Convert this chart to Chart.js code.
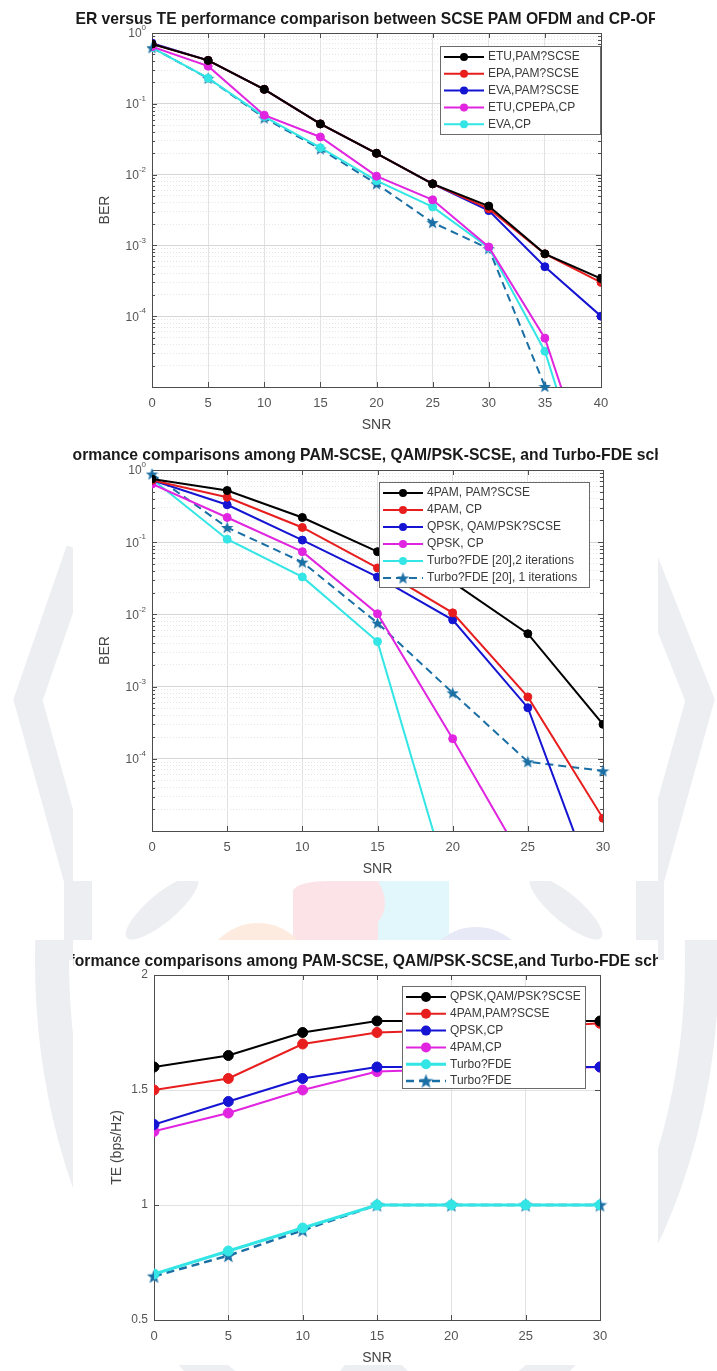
<!DOCTYPE html>
<html>
<head>
<meta charset="utf-8">
<script src="https://cdn.jsdelivr.net/npm/chart.js@4.4.0/dist/chart.umd.min.js"></script>
<style>
html, body { margin: 0; padding: 0; background: #fff; }
#page { position: relative; width: 717px; height: 1371px; overflow: hidden; }
#bg { position: absolute; left: 0; top: 0; }
.panel { position: absolute; background: #fff; }
.chart { position: absolute; left: 0; }
</style>
</head>
<body>
<div id="page">
  <canvas id="bg" width="717" height="1371"></canvas>
  <div class="panel" style="left:0;top:0;width:717px;height:440px"></div>
  <div class="panel" style="left:73px;top:440px;width:585px;height:441px"></div>
  <div class="panel" style="left:73px;top:940px;width:585px;height:425px"></div>
  <canvas id="c1" class="chart" width="717" height="440" style="top:0"></canvas>
  <canvas id="c2" class="chart" width="717" height="441" style="top:440px"></canvas>
  <canvas id="c3" class="chart" width="717" height="431" style="top:940px"></canvas>
</div>
<script>
// ---- data: chart 1 (BER, channels) ----
const snrA = [0, 5, 10, 15, 20, 25, 30, 35, 40];
const berEtuPam   = [0.70, 0.41, 0.16, 0.052, 0.020, 0.0074, 0.0036, 0.00076, 0.00034];
const berEpaPam   = [0.70, 0.41, 0.16, 0.052, 0.020, 0.0074, 0.0033, 0.00076, 0.00030];
const berEvaPam   = [0.72, 0.41, 0.16, 0.052, 0.020, 0.0074, 0.0031, 0.00050, 0.00010];
const berEtuEpaCp = [0.64, 0.34, 0.069, 0.034, 0.0095, 0.0044, 0.00095, 0.000049, 0.0000002];
const berEvaCp    = [0.62, 0.23, 0.066, 0.024, 0.0082, 0.0035, 0.00093, 0.000032, 0.0000001];
const berEvaStar  = [0.62, 0.23, 0.063, 0.023, 0.0074, 0.0021, 0.00090, 0.0000102, null];
const labelsA = ['ETU,PAM?SCSE', 'EPA,PAM?SCSE', 'EVA,PAM?SCSE', 'ETU,CPEPA,CP', 'EVA,CP'];

// ---- data: chart 2 (BER, modulations) ----
const snrB = [0, 5, 10, 15, 20, 25, 30];
const ber4PamScse = [0.75, 0.52, 0.22, 0.074, 0.028, 0.0054, 0.00030];
const ber4PamCp   = [0.72, 0.42, 0.16, 0.044, 0.0105, 0.00072, 0.000015];
const berQpskScse = [0.72, 0.33, 0.107, 0.033, 0.0084, 0.00051, 0.0000008];
const berQpskCp   = [0.64, 0.22, 0.074, 0.0102, 0.00019, 0.000003, 0.00000005];
const berTurbo2   = [0.75, 0.11, 0.033, 0.0042, 0.0000012, 3e-10, 1e-13];
const berTurbo1   = [0.88, 0.16, 0.053, 0.0076, 0.00082, 0.000091, 0.000068];
const labelsB = ['4PAM, PAM?SCSE', '4PAM, CP', 'QPSK, QAM/PSK?SCSE', 'QPSK, CP',
                 'Turbo?FDE [20],2 iterations', 'Turbo?FDE [20], 1 iterations'];

// ---- data: chart 3 (TE) ----
const snrC = [0, 5, 10, 15, 20, 25, 30];
const teQpskScse = [1.60, 1.65, 1.75, 1.80, 1.80, 1.80, 1.80];
const te4PamScse = [1.50, 1.55, 1.70, 1.75, 1.76, 1.77, 1.79];
const teQpskCp   = [1.35, 1.45, 1.55, 1.60, 1.60, 1.60, 1.60];
const te4PamCp   = [1.32, 1.40, 1.50, 1.58, 1.59, 1.59, 1.60];
const teTurbo    = [0.70, 0.80, 0.90, 1.00, 1.00, 1.00, 1.00];
const teTurbo2   = [0.69, 0.78, 0.89, 1.00, 1.00, 1.00, 1.00];
const labelsC = ['QPSK,QAM/PSK?SCSE', '4PAM,PAM?SCSE', 'QPSK,CP', '4PAM,CP', 'Turbo?FDE', 'Turbo?FDE'];
const teTickText = { '0.5': '0.5', '1': '1', '1.5': '1.5', '2': '2' };

const berDecades = [0, -1, -2, -3, -4];

const FONT = '"Liberation Sans", Arial, Helvetica, sans-serif';
const cBlack = '#000000', cRed = '#e81e1e', cBlue = '#1414d2', cMag = '#e024e0',
      cCyan = '#33e5e5', cStar = '#1a6fa5';

// filled five point star marker
function makeStar(color, size) {
  const c = document.createElement('canvas');
  c.width = size; c.height = size;
  const g = c.getContext('2d');
  const cx = size / 2, cy = size / 2 + 0.6, R = size / 2, r = R * 0.42;
  g.beginPath();
  for (let i = 0; i < 10; i++) {
    const ang = -Math.PI / 2 + i * Math.PI / 5;
    const rr = i % 2 ? r : R;
    g.lineTo(cx + rr * Math.cos(ang), cy + rr * Math.sin(ang));
  }
  g.closePath();
  g.fillStyle = color;
  g.fill();
  return c;
}
const star13 = makeStar(cStar, 13);
const star15 = makeStar(cStar, 15);

function series(label, xs, ys, color, extra) {
  return Object.assign({
    label: label,
    data: xs.map((x, i) => ({ x: x, y: ys[i] })),
    borderColor: color,
    backgroundColor: color,
    borderWidth: 2,
    pointRadius: 4,
    pointBorderWidth: 1,
    pointStyle: 'circle',
    tension: 0,
    spanGaps: false
  }, extra || {});
}

function isDecade(v) {
  const l = Math.log10(v);
  return Math.abs(l - Math.round(l)) < 1e-6;
}

const logTicks = [];
for (let k = -5; k <= -1; k++) {
  for (let m = 1; m <= 9; m++) logTicks.push(m * Math.pow(10, k));
}
logTicks.push(1);

// watermark behind the figures
(function () {
  const g = document.getElementById('bg').getContext('2d');
  g.fillStyle = '#fff';
  g.fillRect(0, 0, 717, 1371);
  g.strokeStyle = '#eceef1';
  g.lineWidth = 28;
  g.beginPath(); g.moveTo(80, 550); g.lineTo(28, 700); g.lineTo(78, 880); g.lineTo(78, 960); g.stroke();
  g.beginPath(); g.moveTo(640, 550); g.lineTo(700, 700); g.lineTo(650, 880); g.lineTo(650, 960); g.stroke();
  g.save();
  g.beginPath(); g.rect(0, 940, 717, 431); g.clip();
  g.lineWidth = 34;
  g.beginPath(); g.ellipse(377, 960, 325, 480, 0, 0, Math.PI * 2); g.stroke();
  g.restore();
  g.fillStyle = '#e2f7fb';
  g.fillRect(378, 881, 71, 59);
  g.fillStyle = '#fce3e7';
  g.beginPath(); g.moveTo(293, 890); g.quadraticCurveTo(300, 881, 330, 881);
  g.lineTo(378, 881); g.quadraticCurveTo(392, 905, 378, 922); g.lineTo(378, 940); g.lineTo(293, 940);
  g.closePath(); g.fill();
  g.fillStyle = '#feebdf';
  g.beginPath(); g.ellipse(258, 978, 55, 55, 0, 0, Math.PI * 2); g.fill();
  g.fillStyle = '#e8e9f7';
  g.beginPath(); g.ellipse(476, 982, 55, 55, 0, 0, Math.PI * 2); g.fill();
  g.fillStyle = '#eceef1';
  g.beginPath(); g.ellipse(162, 908, 46, 14, -0.7, 0, Math.PI * 2); g.fill();
  g.beginPath(); g.ellipse(566, 908, 46, 14, 0.7, 0, Math.PI * 2); g.fill();
  g.beginPath(); g.moveTo(340, 1371); g.lineTo(352, 1356); g.lineTo(372, 1364);
  g.lineTo(392, 1356); g.lineTo(408, 1371); g.closePath(); g.fill();
})();

const matlabPlugin = {
  id: 'matlab',
  beforeDatasetsDraw(chart, args, o) {
    const a = chart.chartArea, ctx = chart.ctx;
    const xs = chart.scales.x, ys = chart.scales.y;
    ctx.save();
    ctx.strokeStyle = '#4d4d4d';
    ctx.lineWidth = 1;
    ctx.beginPath();
    xs.ticks.forEach(t => {
      const px = Math.round(xs.getPixelForValue(t.value)) + 0.5;
      ctx.moveTo(px, a.bottom); ctx.lineTo(px, a.bottom - 5);
      ctx.moveTo(px, a.top); ctx.lineTo(px, a.top + 5);
    });
    ys.ticks.forEach(t => {
      const len = (!o.log || isDecade(t.value)) ? 5 : 3;
      const py = Math.round(ys.getPixelForValue(t.value)) + 0.5;
      ctx.moveTo(a.left, py); ctx.lineTo(a.left + len, py);
      ctx.moveTo(a.right, py); ctx.lineTo(a.right - len, py);
    });
    ctx.stroke();
    ctx.strokeRect(Math.round(a.left) + 0.5, Math.round(a.top) + 0.5,
                   Math.round(a.right - a.left), Math.round(a.bottom - a.top));
    ctx.restore();
  },
  afterDraw(chart, args, o) {
    const a = chart.chartArea, ctx = chart.ctx;
    const cx = (a.left + a.right) / 2;
    ctx.save();
    // title, clipped to the figure panel
    ctx.save();
    ctx.beginPath(); ctx.rect(o.clipL, 0, o.clipR - o.clipL, chart.height); ctx.clip();
    ctx.fillStyle = '#1a1a1a';
    ctx.font = 'bold 15.7px ' + FONT;
    ctx.textAlign = 'center';
    ctx.textBaseline = 'middle';
    ctx.fillText(o.title, o.titleX, o.titleY);
    ctx.restore();
    // axis titles
    ctx.fillStyle = '#444';
    ctx.font = '14px ' + FONT;
    ctx.textAlign = 'center';
    ctx.textBaseline = 'middle';
    ctx.fillText('SNR', cx, a.bottom + 38);
    ctx.save();
    ctx.translate(o.ylabelX, (a.top + a.bottom) / 2);
    ctx.rotate(-Math.PI / 2);
    ctx.fillText(o.ylabel, 0, 0);
    ctx.restore();
    // log tick labels 10^k
    if (o.log) {
      const ys = chart.scales.y;
      berDecades.forEach(k => {
        const py = ys.getPixelForValue(Math.pow(10, k));
        const ex = String(k);
        ctx.font = '8px ' + FONT;
        const ew = ctx.measureText(ex).width;
        const xr = a.left - 6;
        ctx.fillStyle = '#555';
        ctx.textAlign = 'left';
        ctx.fillText(ex, xr - ew, py - 5);
        ctx.font = '12px ' + FONT;
        ctx.textAlign = 'right';
        ctx.fillText('10', xr - ew, py + 1);
      });
    }
    // legend
    const L = o.legend;
    ctx.fillStyle = '#fff';
    ctx.fillRect(L.x, L.y, L.w, L.h);
    ctx.strokeStyle = '#6b6b6b';
    ctx.lineWidth = 1;
    ctx.strokeRect(L.x + 0.5, L.y + 0.5, L.w - 1, L.h - 1);
    let row = 0;
    chart.data.datasets.forEach(ds => {
      if (ds.noLegend) return;
      const y = L.row0 + row * L.step;
      const x0 = L.x + 4, x1 = x0 + 40, mx = (x0 + x1) / 2;
      ctx.strokeStyle = ds.borderColor;
      ctx.lineWidth = ds.borderWidth;
      ctx.setLineDash(ds.borderDash || []);
      ctx.beginPath(); ctx.moveTo(x0, y); ctx.lineTo(x1, y); ctx.stroke();
      ctx.setLineDash([]);
      if (ds.pointStyle instanceof HTMLCanvasElement) {
        ctx.drawImage(ds.pointStyle, mx - ds.pointStyle.width / 2, y - ds.pointStyle.height / 2);
      } else {
        ctx.fillStyle = ds.backgroundColor;
        ctx.beginPath(); ctx.arc(mx, y, ds.pointRadius, 0, Math.PI * 2); ctx.fill();
      }
      ctx.fillStyle = '#3a3a3a';
      ctx.font = '12px ' + FONT;
      ctx.textAlign = 'left';
      ctx.textBaseline = 'middle';
      ctx.fillText(ds.label, x1 + 4, y);
      row++;
    });
    ctx.restore();
  }
};

const YW = 40, XH = 30;

function buildChart(id, cfg, yScale) {
  const cv = document.getElementById(id);
  return new Chart(cv, {
    type: 'line',
    data: { datasets: cfg.datasets },
    options: {
      responsive: false,
      animation: false,
      devicePixelRatio: 1,
      events: [],
      layout: {
        padding: {
          left: cfg.area.left - YW,
          right: 717 - cfg.area.right,
          top: cfg.area.top,
          bottom: cv.height - cfg.area.bottom - XH
        }
      },
      plugins: {
        legend: { display: false },
        tooltip: { enabled: false },
        title: { display: false },
        matlab: cfg.deco
      },
      scales: {
        x: {
          type: 'linear',
          min: 0,
          max: cfg.xMax,
          afterFit: s => { s.height = XH; },
          ticks: { stepSize: 5, color: '#555', font: { family: FONT, size: 13 }, padding: 9, maxRotation: 0, autoSkip: false },
          grid: { color: '#e2e2e2', drawTicks: false },
          border: { display: false }
        },
        y: yScale
      }
    },
    plugins: [matlabPlugin]
  });
}

function logAxis() {
  return {
    type: 'logarithmic',
    min: 1e-5,
    max: 1,
    afterBuildTicks: s => { s.ticks = logTicks.map(v => ({ value: v })); },
    afterFit: s => { s.width = YW; },
    ticks: { display: false },
    grid: { color: c => isDecade(c.tick.value) ? '#d6d6d6' : '#e6e6e6', drawTicks: false },
    border: { display: false, dash: c => isDecade(c.tick.value) ? [] : [1, 2] }
  };
}

// chart 1
buildChart('c1', {
  area: { left: 152, right: 601, top: 33, bottom: 387 },
  xMax: 40,
  datasets: [
    series(labelsA[0], snrA, berEtuPam, cBlack),
    series(labelsA[1], snrA, berEpaPam, cRed),
    series(labelsA[2], snrA, berEvaPam, cBlue),
    series(labelsA[3], snrA, berEtuEpaCp, cMag),
    series(labelsA[4], snrA, berEvaCp, cCyan),
    series('', snrA, berEvaStar, cStar, { noLegend: true, borderDash: [8, 5], pointStyle: star13,
      clip: { left: 5, top: 5, right: 5, bottom: 10 } })
  ],
  deco: {
    log: true,
    title: 'BER versus TE performance comparison between SCSE PAM OFDM and CP-OFDM',
    titleX: 373, titleY: 20, clipL: 75, clipR: 655,
    ylabel: 'BER', ylabelX: 105,
    legend: { x: 440, y: 46, w: 161, h: 89, row0: 57, step: 16.8 }
  }
}, logAxis());

// chart 2
buildChart('c2', {
  area: { left: 152, right: 603, top: 30, bottom: 391 },
  xMax: 30,
  datasets: [
    series(labelsB[0], snrB, ber4PamScse, cBlack),
    series(labelsB[1], snrB, ber4PamCp, cRed),
    series(labelsB[2], snrB, berQpskScse, cBlue),
    series(labelsB[3], snrB, berQpskCp, cMag),
    series(labelsB[4], snrB, berTurbo2, cCyan),
    series(labelsB[5], snrB, berTurbo1, cStar, { borderDash: [8, 5], pointStyle: star13,
      clip: { left: 8, top: 8, right: 8, bottom: 0 } })
  ],
  deco: {
    log: true,
    title: 'Performance comparisons among PAM-SCSE, QAM/PSK-SCSE, and Turbo-FDE schemes',
    titleX: 373, titleY: 16, clipL: 73, clipR: 658,
    ylabel: 'BER', ylabelX: 105,
    legend: { x: 379, y: 42, w: 211, h: 106, row0: 53, step: 17 }
  }
}, logAxis());

// chart 3
buildChart('c3', {
  area: { left: 154, right: 600, top: 35, bottom: 380 },
  xMax: 30,
  datasets: [
    series(labelsC[0], snrC, teQpskScse, cBlack, { pointRadius: 5 }),
    series(labelsC[1], snrC, te4PamScse, cRed, { pointRadius: 5 }),
    series(labelsC[2], snrC, teQpskCp, cBlue, { pointRadius: 5 }),
    series(labelsC[3], snrC, te4PamCp, cMag, { pointRadius: 5 }),
    series(labelsC[4], snrC, teTurbo, cCyan, { pointRadius: 5, borderWidth: 3 }),
    series(labelsC[5], snrC, teTurbo2, cStar, { borderDash: [8, 5], borderWidth: 2.5, pointStyle: star15,
      clip: 10 })
  ],
  deco: {
    log: false,
    title: 'Performance comparisons among PAM-SCSE, QAM/PSK-SCSE,and Turbo-FDE schemes',
    titleX: 373, titleY: 22, clipL: 73, clipR: 658,
    ylabel: 'TE (bps/Hz)', ylabelX: 117,
    legend: { x: 402, y: 46, w: 184, h: 103, row0: 57, step: 16.8 }
  }
}, {
  type: 'linear',
  min: 0.5,
  max: 2,
  afterFit: s => { s.width = YW; },
  ticks: { stepSize: 0.5, color: '#555', font: { family: FONT, size: 12 }, padding: 6,
           callback: v => teTickText[String(Math.round(v * 10) / 10)] },
  grid: { color: '#e2e2e2', drawTicks: false },
  border: { display: false }
});
</script>
</body>
</html>
